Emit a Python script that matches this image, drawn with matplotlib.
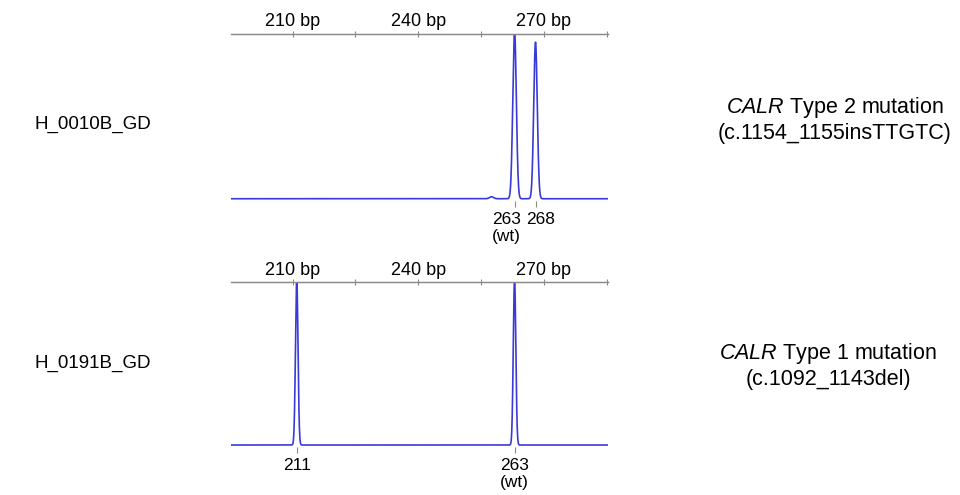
import numpy as np
import matplotlib
matplotlib.use("Agg")
import matplotlib.pyplot as plt
from matplotlib.transforms import offset_copy, blended_transform_factory

plt.rcParams['font.family'] = ['Liberation Sans', 'DejaVu Sans']
plt.rcParams['mathtext.fontset'] = 'custom'
plt.rcParams['mathtext.rm'] = 'Liberation Sans'
plt.rcParams['mathtext.it'] = 'Liberation Sans:italic'

# ---- data ----
sample_names = ["H_0010B_GD", "H_0191B_GD"]
mutation_names = ["Type 2 mutation", "Type 1 mutation"]
mutation_codes = ["(c.1154_1155insTTGTC)", "(c.1092_1143del)"]

bp_major = [210, 240, 270]
bp_minor = [225, 255, 285]
bp_labels = ["210 bp", "240 bp", "270 bp"]

# peaks: size (bp), relative height, width (bp)
peaks_top_pos = [257.5, 263, 268]
peaks_top_h = [0.012, 1.02, 0.95]
peaks_top_w = [0.5, 0.42, 0.42]
labels_top_pos = [263, 268]
labels_top = ["263\n(wt)", "268"]

peaks_bot_pos = [211, 263]
peaks_bot_h = [1.02, 1.02]
peaks_bot_w = [0.3, 0.3]
labels_bot_pos = [211, 263]
labels_bot = ["211", "263\n(wt)"]

XMIN, XMAX = 195.3, 285.3

fig = plt.figure(figsize=(9.6, 4.95), dpi=100)

def panel(rect, pos, h, w, lpos, llab, loffs):
    ax = fig.add_axes(rect)
    x = np.linspace(XMIN, XMAX, 4000)
    y = np.zeros_like(x)
    for p, hh, ww in zip(pos, h, w):
        y += hh * np.exp(-0.5 * ((x - p) / ww) ** 2)
    ax.plot(x, y, color='#3a3ad8', lw=1.2, solid_capstyle='butt')
    ax.set_xlim(XMIN, XMAX)
    ax.set_ylim(-0.012, 1.0)
    for s in ['left', 'right', 'bottom']:
        ax.spines[s].set_visible(False)
    ax.spines['top'].set_color('#8a8a8a')
    ax.spines['top'].set_linewidth(1.0)
    ax.set_yticks([])
    # bottom ticks at peaks (labels placed separately)
    ax.set_xticks(lpos)
    ax.set_xticklabels([''] * len(lpos))
    ax.tick_params(axis='x', which='major', bottom=True, top=False, direction='out',
                   length=4, width=0.8, color='#8a8a8a')
    trans = blended_transform_factory(ax.transData, ax.transAxes)
    for p, lab, off in zip(lpos, llab, loffs):
        t = offset_copy(trans, fig=fig, x=off, y=-8, units='points')
        ax.text(p, 0, lab, transform=t, ha='center', va='top', fontsize=12.5,
                linespacing=1.2)
    # top size scale
    sec = ax.secondary_xaxis('top')
    sec.set_xticks(bp_major)
    sec.set_xticklabels(bp_labels, fontsize=13)
    sec.set_xticks(bp_minor, minor=True)
    sec.tick_params(which='both', direction='inout', length=5, width=0.8,
                    color='#8a8a8a', pad=0)
    sec.spines['top'].set_color('#8a8a8a')
    return ax

panel([0.2406, 0.5945, 0.3927, 0.337], peaks_top_pos, peaks_top_h, peaks_top_w,
      labels_top_pos, labels_top, [-6, 4])
panel([0.2406, 0.097, 0.3927, 0.333], peaks_bot_pos, peaks_bot_h, peaks_bot_w,
      labels_bot_pos, labels_bot, [0, 0])

# left sample names
fig.text(35 / 960, 1 - 124 / 495, sample_names[0], fontsize=13.5, va='center', ha='left')
fig.text(35 / 960, 1 - 363 / 495, sample_names[1], fontsize=13.5, va='center', ha='left')

# right mutation descriptions
for (cx, y1, y2), name, code in zip([(835, 107, 133), (828, 353, 379)], mutation_names, mutation_codes):
    fig.text(cx / 960, 1 - y1 / 495, "$\\it{CALR}$ " + name, fontsize=15.5,
             ha='center', va='center')
    fig.text(cx / 960, 1 - y2 / 495, code, fontsize=15.5, ha='center', va='center')

fig.savefig("out.png", dpi=100)
